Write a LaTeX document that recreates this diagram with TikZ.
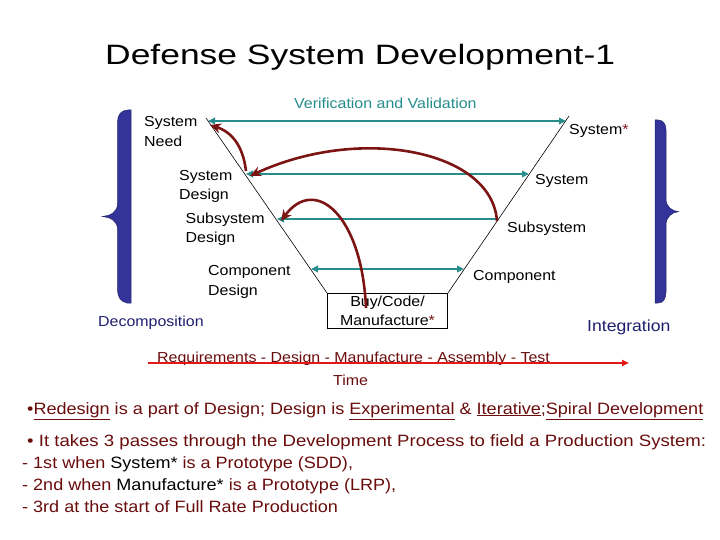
\documentclass[tikz,border=0pt]{standalone}
\usepackage{graphicx}
\usepackage{fontspec}
\setmainfont{Liberation Sans}[FakeStretch=1.1]
\usetikzlibrary{arrows.meta}
\definecolor{tealc}{RGB}{38,140,140}
\definecolor{braceblue}{RGB}{51,51,153}
\definecolor{navy}{RGB}{30,30,110}
\definecolor{arcred}{RGB}{125,20,20}
\definecolor{timered}{RGB}{225,25,25}
\definecolor{txtred}{RGB}{105,12,12}
\begin{document}
\begin{tikzpicture}[x=1pt,y=-1pt,
  lbl/.style={font=\fontsize{14.5}{19.5}\selectfont, inner sep=0pt, anchor=base west, align=left},
  btxt/.style={font=\fontsize{16.4}{20}\selectfont, inner sep=0pt, anchor=base west, text=txtred},
  vv/.style={draw=tealc, line width=2pt, {Triangle[length=7pt,width=6.5pt]}-{Triangle[length=7pt,width=6.5pt]}},
  vvr/.style={draw=tealc, line width=2pt, {Triangle[length=7pt,width=6.5pt]}-},
  redarc/.style={draw=arcred, line width=2.6pt, -{Stealth[length=11pt,width=10pt]}},
  diag/.style={draw=black, line width=0.6pt},
  bracefill/.style={fill=braceblue, draw=braceblue!70!black, line width=0.5pt}]
\useasboundingbox (0,0) rectangle (720,540);

% title
\node[inner sep=0pt, anchor=base west] (title) at (105,65)
  {\scalebox{1.15}[1]{\fontsize{28}{32}\selectfont Defense System Development-1}};

% braces
\path[bracefill] (131,110) -- (131,303) -- (127,303)
  .. controls (121,302) and (117.5,297) .. (117.5,290) -- (117.5,229)
  .. controls (117.5,221) and (110,217) .. (102.5,216.5)
  .. controls (110,216) and (117.5,212) .. (117.5,204) -- (117.5,122)
  .. controls (117.5,115) and (121,110) .. (128,110) -- cycle;
\path[bracefill] (655,120) -- (655,303) -- (658,303)
  .. controls (663,303) and (666,299) .. (666,292) -- (666,225)
  .. controls (666,217) and (672,212) .. (678.5,211.7)
  .. controls (672,211) and (666,207) .. (666,199) -- (666,130)
  .. controls (666,124) and (663,120) .. (658,120) -- cycle;

% coordinates
\coordinate (tl) at (206,118);
\coordinate (tr) at (569,116);
\coordinate (sn) at (208,121);
\coordinate (ss) at (566,121);
\coordinate (sd) at (246,174);
\coordinate (sy) at (529,174);
\coordinate (subd) at (277,219);
\coordinate (subs) at (498,219);
\coordinate (cd) at (311,269);
\coordinate (cp) at (464,269);

% box
\node[draw=black, line width=0.7pt, fill=white, minimum width=120pt, minimum height=35pt,
      inner sep=0pt, align=center, font=\fontsize{14.5}{19.5}\selectfont] (box) at (387.5,311)
  {Buy/Code/\\Manufacture\textcolor{arcred}{*}};

% V diagonals
\draw[diag] (tl) -- (box.north west);
\draw[diag] (box.north east) -- (tr);

% verification arrows
\draw[vv] (sn) -- (ss);
\draw[vv] (sd) -- (sy);
\draw[vvr] (subd) -- (subs);
\draw[vv] (cd) -- (cp);

% labels
\node[lbl, text=tealc] (vvl) at (294,108.3) {Verification and Validation};
\node[lbl] (need) at (144,146.5) {System\\Need};
\node[lbl] (sdes) at (179,200) {System\\Design};
\node[lbl] (subdes) at (185.5,243) {Subsystem\\Design};
\node[lbl] (cdes) at (208,295) {Component\\Design};
\node[lbl, text=navy] (decomp) at (98,326.7) {Decomposition};
\node[lbl] (sysstar) at (569,135) {System\textcolor{arcred}{*}};
\node[lbl] (sysr) at (535,184.3) {System};
\node[lbl] (subr) at (507,232.7) {Subsystem};
\node[lbl] (compr) at (473,280.7) {Component};
\node[lbl, text=navy, font=\fontsize{16}{19}\selectfont] (integ) at (587,331) {Integration};

% red arcs
\coordinate (a1s) at (246,171);
\coordinate (a1e) at (210,125);
\coordinate (a2s) at (497,221);
\coordinate (a2e) at (250,176);
\coordinate (a3s) at (366,308);
\coordinate (a3e) at (281,221);
\draw[redarc] (a1s) .. controls (243,146) and (232,132) .. (a1e);
\draw[redarc] (a2s) .. controls (492,150) and (360,125) .. (a2e);
\draw[redarc] (a3s) .. controls (362,215) and (315,175) .. (a3e);

% time line
\node[lbl, text=txtred] (req) at (157,362) {Requirements - Design - Manufacture - Assembly - Test};
\coordinate (t0) at (148,363);
\coordinate (t1) at (629,363);
\draw[draw=timered, line width=2.4pt, -{Triangle[length=7pt,width=6pt]}] (t0) -- (t1);
\node[lbl, text=txtred] (time) at (333,385) {Time};

% bottom text
\node[btxt] (l1) at (27,414) {•\underline{Redesign} is a part of Design; Design is \underline{Experimental} \& \underline{Iterative};\underline{Spiral Development}};
\node[btxt] (l2) at (27,446) {\scalebox{1.03}[1]{• It takes 3 passes through the Development Process to field a Production System:}};
\node[btxt] (l3) at (22,468) {- 1st when \textcolor{black}{System*} is a Prototype (SDD),};
\node[btxt] (l4) at (22,490) {- 2nd when \textcolor{black}{Manufacture*} is a Prototype (LRP),};
\node[btxt] (l5) at (22,512) {- 3rd at the start of Full Rate Production};
\end{tikzpicture}
\end{document}
